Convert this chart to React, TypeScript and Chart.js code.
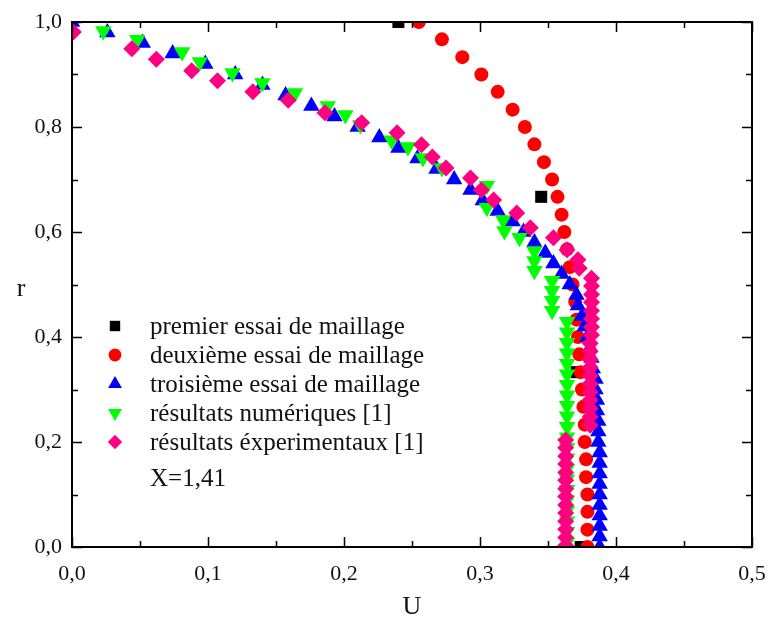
import React, { useEffect, useRef } from "react";
import { Chart, registerables } from "chart.js";
Chart.register(...registerables);

const FONT = '"Liberation Serif", "Times New Roman", serif';

// premier essai de maillage
const premierU = [0.240, 0.345, 0.371, 0.374];
const premierR = [1.0, 0.667, 0.333, 0.0];

// deuxième essai de maillage
const deuxiemeU = [0.255, 0.272, 0.287, 0.301, 0.313, 0.324, 0.333, 0.340, 0.347, 0.353, 0.357, 0.360, 0.362, 0.364, 0.366, 0.368, 0.370, 0.371, 0.372, 0.373, 0.374, 0.375, 0.376, 0.377, 0.377, 0.378, 0.378, 0.379, 0.379, 0.379, 0.379];
const deuxiemeR = [1.000, 0.967, 0.933, 0.900, 0.867, 0.833, 0.800, 0.767, 0.733, 0.700, 0.667, 0.633, 0.600, 0.567, 0.533, 0.500, 0.467, 0.433, 0.400, 0.367, 0.333, 0.300, 0.267, 0.233, 0.200, 0.167, 0.133, 0.100, 0.067, 0.033, 0.000];

// troisième essai de maillage
const troisiemeU = [0.000, 0.026, 0.052, 0.074, 0.098, 0.120, 0.140, 0.157, 0.176, 0.193, 0.210, 0.226, 0.240, 0.254, 0.268, 0.281, 0.293, 0.302, 0.313, 0.324, 0.332, 0.340, 0.348, 0.354, 0.360, 0.366, 0.371, 0.372, 0.375, 0.377, 0.379, 0.381, 0.382, 0.383, 0.385, 0.385, 0.386, 0.386, 0.387, 0.387, 0.387, 0.388, 0.388, 0.388, 0.388, 0.388, 0.388, 0.388, 0.388, 0.388, 0.388];
const troisiemeR = [1.00, 0.98, 0.96, 0.94, 0.92, 0.90, 0.88, 0.86, 0.84, 0.82, 0.80, 0.78, 0.76, 0.74, 0.72, 0.70, 0.68, 0.66, 0.64, 0.62, 0.60, 0.58, 0.56, 0.54, 0.52, 0.50, 0.48, 0.46, 0.44, 0.42, 0.40, 0.38, 0.36, 0.34, 0.32, 0.30, 0.28, 0.26, 0.24, 0.22, 0.20, 0.18, 0.16, 0.14, 0.12, 0.10, 0.08, 0.06, 0.04, 0.02, 0.00];

// résultats numériques [1]
const numeriquesU = [0.023, 0.048, 0.081, 0.094, 0.118, 0.140, 0.164, 0.188, 0.201, 0.212, 0.235, 0.247, 0.258, 0.272, 0.305, 0.305, 0.317, 0.318, 0.329, 0.340, 0.340, 0.340, 0.353, 0.353, 0.353, 0.353, 0.364, 0.364, 0.364, 0.364, 0.364, 0.364, 0.364, 0.364, 0.364, 0.364, 0.364, 0.364, 0.364, 0.364, 0.364, 0.364, 0.364, 0.364, 0.364, 0.364, 0.364, 0.364];
const numeriquesR = [0.983, 0.966, 0.943, 0.924, 0.903, 0.884, 0.865, 0.840, 0.823, 0.804, 0.775, 0.762, 0.741, 0.722, 0.688, 0.646, 0.623, 0.602, 0.589, 0.564, 0.545, 0.526, 0.507, 0.488, 0.469, 0.450, 0.429, 0.409, 0.389, 0.369, 0.349, 0.329, 0.309, 0.289, 0.269, 0.249, 0.229, 0.209, 0.189, 0.169, 0.149, 0.129, 0.109, 0.089, 0.069, 0.049, 0.029, 0.009];

// résultats éxperimentaux [1]
const experimentauxU = [0.001, 0.044, 0.062, 0.088, 0.107, 0.133, 0.159, 0.186, 0.213, 0.239, 0.257, 0.265, 0.275, 0.293, 0.301, 0.310, 0.327, 0.337, 0.354, 0.364, 0.372, 0.373, 0.382, 0.382, 0.382, 0.382, 0.382, 0.382, 0.382, 0.382, 0.381, 0.381, 0.381, 0.381, 0.381, 0.381, 0.381, 0.381, 0.381, 0.381, 0.381, 0.363, 0.363, 0.363, 0.363, 0.363, 0.363, 0.363, 0.363, 0.363, 0.363, 0.363, 0.363, 0.363, 0.363];
const experimentauxR = [0.981, 0.949, 0.929, 0.907, 0.888, 0.867, 0.851, 0.827, 0.808, 0.789, 0.766, 0.743, 0.722, 0.703, 0.680, 0.661, 0.636, 0.608, 0.589, 0.566, 0.547, 0.531, 0.512, 0.497, 0.481, 0.466, 0.450, 0.435, 0.419, 0.404, 0.388, 0.373, 0.357, 0.342, 0.326, 0.311, 0.295, 0.280, 0.264, 0.248, 0.232, 0.204, 0.189, 0.173, 0.158, 0.142, 0.127, 0.111, 0.096, 0.080, 0.065, 0.049, 0.034, 0.018, 0.003];

const xMajorTicks = [0, 0.1, 0.2, 0.3, 0.4, 0.5];
const xMinorTicks = [0.05, 0.15, 0.25, 0.35, 0.45];
const yMajorTicks = [0, 0.2, 0.4, 0.6, 0.8, 1.0];
const yMinorTicks = [0.1, 0.3, 0.5, 0.7, 0.9];

const seriesNames = [
  "premier essai de maillage",
  "deuxième essai de maillage",
  "troisième essai de maillage",
  "résultats numériques [1]",
  "résultats éxperimentaux [1]",
];
const seriesColors = ["#000000", "#ff0000", "#0000ff", "#00ff00", "#ff0080"];
const annotationText = "X=1,41";
const xTitle = "U";
const yTitle = "r";

const pts = (u: number[], r: number[]) => u.map((v, i) => ({ x: v, y: r[i] }));
const fmt = (v: number) => v.toFixed(1).replace(".", ",");

function drawMarker(ctx: CanvasRenderingContext2D, kind: number, x: number, y: number, s: number) {
  ctx.beginPath();
  if (kind === 0) {
    ctx.rect(x - s * 0.65, y - s * 0.65, s * 1.3, s * 1.3);
  } else if (kind === 1) {
    ctx.arc(x, y, s * 0.8, 0, Math.PI * 2);
  } else if (kind === 2) {
    ctx.moveTo(x, y - s);
    ctx.lineTo(x + s * 0.866, y + s * 0.5);
    ctx.lineTo(x - s * 0.866, y + s * 0.5);
    ctx.closePath();
  } else if (kind === 3) {
    ctx.moveTo(x, y + s);
    ctx.lineTo(x + s * 0.866, y - s * 0.5);
    ctx.lineTo(x - s * 0.866, y - s * 0.5);
    ctx.closePath();
  } else {
    ctx.moveTo(x, y - s * 0.9);
    ctx.lineTo(x + s * 0.9, y);
    ctx.lineTo(x, y + s * 0.9);
    ctx.lineTo(x - s * 0.9, y);
    ctx.closePath();
  }
  ctx.fill();
}

const framePlugin = {
  id: "frame",
  afterDatasetsDraw(chart: any) {
    const { ctx, chartArea: a, scales } = chart;
    const xs = scales.x, ys = scales.y;
    ctx.save();
    ctx.strokeStyle = "#000";
    ctx.lineWidth = 1.5;
    ctx.beginPath();
    const xt = (vals: number[], len: number) => {
      for (const v of vals) {
        const p = Math.round(xs.getPixelForValue(v)) + 0.5;
        ctx.moveTo(p, a.bottom); ctx.lineTo(p, a.bottom - len);
        ctx.moveTo(p, a.top); ctx.lineTo(p, a.top + len);
      }
    };
    const yt = (vals: number[], len: number) => {
      for (const v of vals) {
        const p = Math.round(ys.getPixelForValue(v)) + 0.5;
        ctx.moveTo(a.left, p); ctx.lineTo(a.left + len, p);
        ctx.moveTo(a.right, p); ctx.lineTo(a.right - len, p);
      }
    };
    xt(xMajorTicks, 10); xt(xMinorTicks, 6);
    yt(yMajorTicks, 10); yt(yMinorTicks, 6);
    ctx.stroke();
    ctx.lineWidth = 2;
    ctx.strokeRect(a.left, a.top, a.right - a.left, a.bottom - a.top);
    ctx.restore();
  },
  afterDraw(chart: any) {
    const { ctx } = chart;
    ctx.save();
    const rows = [326, 355, 384, 413, 442];
    ctx.font = `25px ${FONT}`;
    ctx.textBaseline = "middle";
    ctx.textAlign = "left";
    seriesNames.forEach((name, i) => {
      ctx.fillStyle = seriesColors[i];
      drawMarker(ctx, i, 115, rows[i], 8);
      ctx.fillStyle = "#111";
      ctx.fillText(name, 150, rows[i] + 1);
    });
    ctx.fillText(annotationText, 150, 479);
    ctx.font = `26px ${FONT}`;
    ctx.textAlign = "center";
    ctx.fillText(yTitle, 21, 289);
    ctx.restore();
  },
};

export default function App() {
  const ref = useRef<HTMLCanvasElement | null>(null);
  useEffect(() => {
    if (!ref.current) return;
    const base = { showLine: false, borderWidth: 0, clip: 0 };
    const chart = new Chart(ref.current, {
      type: "scatter",
      data: {
        datasets: [
          { ...base, label: seriesNames[0], data: pts(premierU, premierR), pointStyle: "rect", pointRadius: 8.5, backgroundColor: seriesColors[0], order: 5 },
          { ...base, label: seriesNames[1], data: pts(deuxiemeU, deuxiemeR), pointStyle: "circle", pointRadius: 7, backgroundColor: seriesColors[1], order: 4 },
          { ...base, label: seriesNames[2], data: pts(troisiemeU, troisiemeR), pointStyle: "triangle", pointRadius: 9.5, backgroundColor: seriesColors[2], order: 3 },
          { ...base, label: seriesNames[3], data: pts(numeriquesU, numeriquesR), pointStyle: "triangle", rotation: 180, pointRadius: 9.5, backgroundColor: seriesColors[3], order: 2 },
          { ...base, label: seriesNames[4], data: pts(experimentauxU, experimentauxR), pointStyle: "rectRot", pointRadius: 8.5, backgroundColor: seriesColors[4], order: 1 },
        ] as any,
      },
      options: {
        animation: false,
        responsive: true,
        maintainAspectRatio: false,
        layout: { padding: { top: 22, right: 16, left: 0, bottom: 0 } },
        plugins: { legend: { display: false }, tooltip: { enabled: false } },
        scales: {
          x: {
            type: "linear",
            min: 0,
            max: 0.5,
            afterFit: (s: any) => { s.height = 76; s.paddingLeft = 0; s.paddingRight = 0; },
            afterBuildTicks: (s: any) => { s.ticks = xMajorTicks.map((v) => ({ value: v })); },
            grid: { display: false, drawTicks: false },
            border: { display: false },
            ticks: { callback: (v: any) => fmt(Number(v)), font: { family: FONT, size: 22 }, color: "#111", padding: 14, maxRotation: 0 },
            title: { display: true, text: xTitle, font: { family: FONT, size: 26 }, color: "#111", padding: { top: 0, bottom: 0 } },
          },
          y: {
            type: "linear",
            min: 0,
            max: 1,
            afterFit: (s: any) => { s.width = 72; s.paddingTop = 0; s.paddingBottom = 0; },
            afterBuildTicks: (s: any) => { s.ticks = yMajorTicks.map((v) => ({ value: v })); },
            grid: { display: false, drawTicks: false },
            border: { display: false },
            ticks: { callback: (v: any) => fmt(Number(v)), font: { family: FONT, size: 22 }, color: "#111", padding: 10 },
          },
        },
      } as any,
      plugins: [framePlugin],
    });
    return () => chart.destroy();
  }, []);
  return (
    <div style={{ position: "fixed", left: 0, top: 0, width: 768, height: 623, background: "#fff" }}>
      <canvas ref={ref} />
    </div>
  );
}
